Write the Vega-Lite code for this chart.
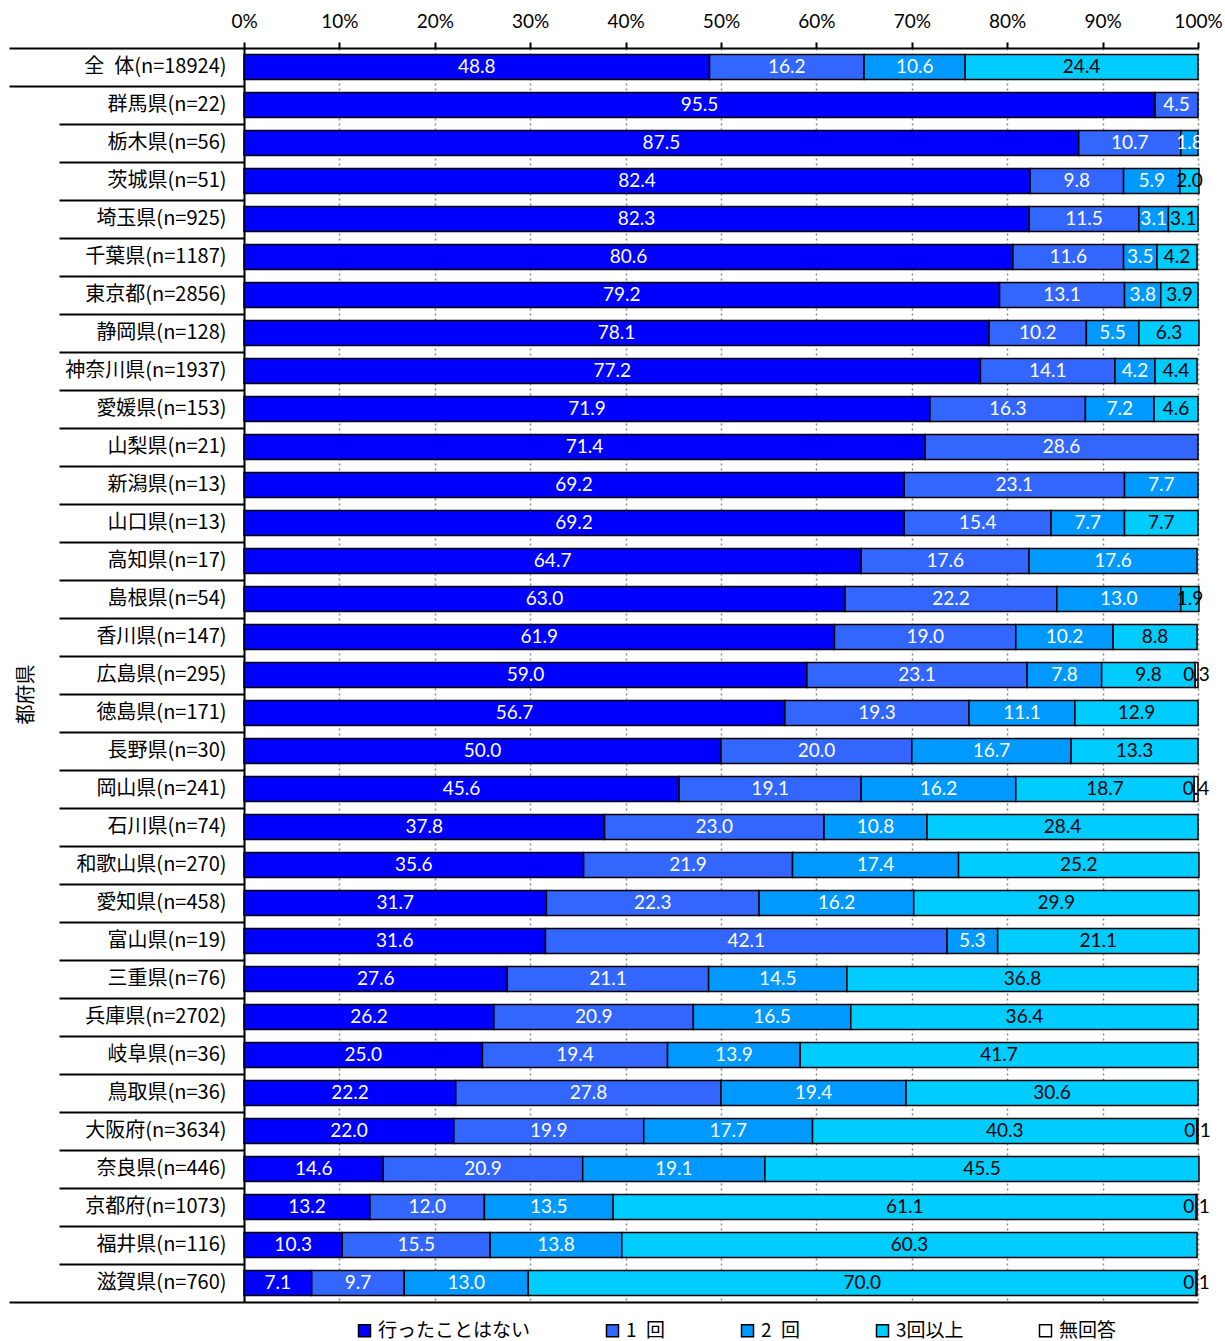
{
  "$schema": "https://vega.github.io/schema/vega-lite/v6.json",
  "width": 954,
  "height": 1254,
  "padding": {"left": 8, "top": 12, "right": 0, "bottom": 0},
  "background": "white",
  "config": {"view": {"stroke": null}, "font": "Lato"},
  "data": {"values": [
    {"p": "全\u2002体(n=18924)", "行ったことはない": 48.8, "1\u2002回": 16.2, "2\u2002回": 10.6, "3回以上": 24.4},
    {"p": "群馬県(n=22)", "行ったことはない": 95.5, "1\u2002回": 4.5},
    {"p": "栃木県(n=56)", "行ったことはない": 87.5, "1\u2002回": 10.7, "2\u2002回": 1.8},
    {"p": "茨城県(n=51)", "行ったことはない": 82.4, "1\u2002回": 9.8, "2\u2002回": 5.9, "3回以上": 2.0},
    {"p": "埼玉県(n=925)", "行ったことはない": 82.3, "1\u2002回": 11.5, "2\u2002回": 3.1, "3回以上": 3.1},
    {"p": "千葉県(n=1187)", "行ったことはない": 80.6, "1\u2002回": 11.6, "2\u2002回": 3.5, "3回以上": 4.2},
    {"p": "東京都(n=2856)", "行ったことはない": 79.2, "1\u2002回": 13.1, "2\u2002回": 3.8, "3回以上": 3.9},
    {"p": "静岡県(n=128)", "行ったことはない": 78.1, "1\u2002回": 10.2, "2\u2002回": 5.5, "3回以上": 6.3},
    {"p": "神奈川県(n=1937)", "行ったことはない": 77.2, "1\u2002回": 14.1, "2\u2002回": 4.2, "3回以上": 4.4},
    {"p": "愛媛県(n=153)", "行ったことはない": 71.9, "1\u2002回": 16.3, "2\u2002回": 7.2, "3回以上": 4.6},
    {"p": "山梨県(n=21)", "行ったことはない": 71.4, "1\u2002回": 28.6},
    {"p": "新潟県(n=13)", "行ったことはない": 69.2, "1\u2002回": 23.1, "2\u2002回": 7.7},
    {"p": "山口県(n=13)", "行ったことはない": 69.2, "1\u2002回": 15.4, "2\u2002回": 7.7, "3回以上": 7.7},
    {"p": "高知県(n=17)", "行ったことはない": 64.7, "1\u2002回": 17.6, "2\u2002回": 17.6},
    {"p": "島根県(n=54)", "行ったことはない": 63.0, "1\u2002回": 22.2, "2\u2002回": 13.0, "3回以上": 1.9},
    {"p": "香川県(n=147)", "行ったことはない": 61.9, "1\u2002回": 19.0, "2\u2002回": 10.2, "3回以上": 8.8},
    {"p": "広島県(n=295)", "行ったことはない": 59.0, "1\u2002回": 23.1, "2\u2002回": 7.8, "3回以上": 9.8, "無回答": 0.3},
    {"p": "徳島県(n=171)", "行ったことはない": 56.7, "1\u2002回": 19.3, "2\u2002回": 11.1, "3回以上": 12.9},
    {"p": "長野県(n=30)", "行ったことはない": 50.0, "1\u2002回": 20.0, "2\u2002回": 16.7, "3回以上": 13.3},
    {"p": "岡山県(n=241)", "行ったことはない": 45.6, "1\u2002回": 19.1, "2\u2002回": 16.2, "3回以上": 18.7, "無回答": 0.4},
    {"p": "石川県(n=74)", "行ったことはない": 37.8, "1\u2002回": 23.0, "2\u2002回": 10.8, "3回以上": 28.4},
    {"p": "和歌山県(n=270)", "行ったことはない": 35.6, "1\u2002回": 21.9, "2\u2002回": 17.4, "3回以上": 25.2},
    {"p": "愛知県(n=458)", "行ったことはない": 31.7, "1\u2002回": 22.3, "2\u2002回": 16.2, "3回以上": 29.9},
    {"p": "富山県(n=19)", "行ったことはない": 31.6, "1\u2002回": 42.1, "2\u2002回": 5.3, "3回以上": 21.1},
    {"p": "三重県(n=76)", "行ったことはない": 27.6, "1\u2002回": 21.1, "2\u2002回": 14.5, "3回以上": 36.8},
    {"p": "兵庫県(n=2702)", "行ったことはない": 26.2, "1\u2002回": 20.9, "2\u2002回": 16.5, "3回以上": 36.4},
    {"p": "岐阜県(n=36)", "行ったことはない": 25.0, "1\u2002回": 19.4, "2\u2002回": 13.9, "3回以上": 41.7},
    {"p": "鳥取県(n=36)", "行ったことはない": 22.2, "1\u2002回": 27.8, "2\u2002回": 19.4, "3回以上": 30.6},
    {"p": "大阪府(n=3634)", "行ったことはない": 22.0, "1\u2002回": 19.9, "2\u2002回": 17.7, "3回以上": 40.3, "無回答": 0.1},
    {"p": "奈良県(n=446)", "行ったことはない": 14.6, "1\u2002回": 20.9, "2\u2002回": 19.1, "3回以上": 45.5},
    {"p": "京都府(n=1073)", "行ったことはない": 13.2, "1\u2002回": 12.0, "2\u2002回": 13.5, "3回以上": 61.1, "無回答": 0.1},
    {"p": "福井県(n=116)", "行ったことはない": 10.3, "1\u2002回": 15.5, "2\u2002回": 13.8, "3回以上": 60.3},
    {"p": "滋賀県(n=760)", "行ったことはない": 7.1, "1\u2002回": 9.7, "2\u2002回": 13.0, "3回以上": 70.0, "無回答": 0.1}
  ]},
  "transform": [
    {"fold": ["行ったことはない", "1\u2002回", "2\u2002回", "3回以上", "無回答"], "as": ["cat", "v"]},
    {"filter": "isValid(datum.v)"},
    {"stack": "v", "groupby": ["p"], "as": ["v0", "v1"]}
  ],
  "layer": [
    {
      "mark": {"type": "bar", "height": {"band": 0.66}, "stroke": "black", "strokeWidth": 1.5},
      "encoding": {
        "x": {
          "field": "v0", "type": "quantitative",
          "scale": {"domain": [0, 100], "nice": false, "zero": true},
          "axis": {
            "orient": "top", "title": null,
            "values": [0, 10, 20, 30, 40, 50, 60, 70, 80, 90, 100],
            "labelExpr": "datum.value + '%'",
            "tickSize": 6, "tickWidth": 2, "tickColor": "black",
            "domainColor": "black", "domainWidth": 2,
            "grid": true, "gridColor": "#8a8a8a", "gridDash": [2, 3], "gridWidth": 1.5,
            "labelFont": "Lato", "labelFontSize": 19, "labelColor": "black",
            "labelPadding": 11, "labelFlush": false
          }
        },
        "x2": {"field": "v1"},
        "y": {
          "field": "p", "type": "nominal", "sort": null,
          "scale": {"paddingInner": 0, "paddingOuter": 0},
          "axis": {
            "orient": "left",
            "title": "都府県",
            "titleFont": "Noto Sans CJK JP", "titleFontSize": 20, "titleFontWeight": "normal",
            "titleColor": "black", "titleX": -218, "titleY": 646, "titleBaseline": "middle", "titleAlign": "center",
            "domainColor": "black", "domainWidth": 2,
            "bandPosition": 0,
            "tickColor": "black", "tickWidth": 2,
            "tickSize": {"condition": {"test": "datum.value == '全\u2002体(n=18924)' || datum.value == '群馬県(n=22)'", "value": 235}, "value": 185},
            "labelPadding": {"condition": {"test": "datum.value == '全\u2002体(n=18924)' || datum.value == '群馬県(n=22)'", "value": -217}, "value": -167},
            "labelFont": "Noto Sans CJK JP", "labelFontSize": 20, "labelColor": "black",
            "labelLimit": 300
          }
        },
        "color": {
          "field": "cat", "type": "nominal",
          "scale": {
            "domain": ["行ったことはない", "1\u2002回", "2\u2002回", "3回以上", "無回答"],
            "range": ["#0000FF", "#3366FF", "#0099FF", "#00CCFF", "#FFFFFF"]
          },
          "legend": {
            "orient": "none", "legendX": 111, "legendY": 1273,
            "direction": "horizontal", "title": null,
            "symbolType": "square", "symbolSize": 144,
            "symbolStrokeColor": "black", "symbolStrokeWidth": 1.5, "symbolOpacity": 1,
            "labelFont": "Noto Sans CJK JP", "labelFontSize": 19, "labelColor": "black",
            "labelOffset": 4, "columnPadding": 72, "labelLimit": 300
          }
        }
      }
    },
    {
      "transform": [{"fold": ["v0", "v1"], "as": ["edge", "pos"]}],
      "mark": {"type": "text", "font": "Lato", "fontSize": 19, "baseline": "middle", "align": "center"},
      "encoding": {
        "x": {
          "aggregate": "mean", "field": "pos", "type": "quantitative",
          "axis": {
            "orient": "top", "title": null,
            "values": [0, 10, 20, 30, 40, 50, 60, 70, 80, 90, 100],
            "labelExpr": "datum.value + '%'",
            "tickSize": 6, "tickWidth": 2, "tickColor": "black",
            "domainColor": "black", "domainWidth": 2,
            "grid": true, "gridColor": "#8a8a8a", "gridDash": [2, 3], "gridWidth": 1.5,
            "labelFont": "Lato", "labelFontSize": 19, "labelColor": "black",
            "labelPadding": 11, "labelFlush": false
          }
        },
        "y": {
          "field": "p", "type": "nominal", "sort": null,
          "axis": {
            "orient": "left", "labels": false, "domain": false, "title": null,
            "bandPosition": 1, "tickSize": 235, "tickWidth": 2, "tickColor": "black",
            "tickOpacity": {"condition": {"test": "datum.value == '滋賀県(n=760)'", "value": 1}, "value": 0},
            "grid": true, "gridColor": "black", "gridWidth": 2,
            "gridOpacity": {"condition": {"test": "datum.value == '滋賀県(n=760)'", "value": 1}, "value": 0}
          }
        },
        "text": {"field": "v", "type": "quantitative", "format": ".1f"},
        "detail": {"field": "cat", "type": "nominal"},
        "color": {"condition": {"test": "datum.cat == '3回以上' || datum.cat == '無回答'", "value": "black"}, "value": "white"}
      }
    }
  ],
  "resolve": {"axis": {"y": "independent"}}
}
